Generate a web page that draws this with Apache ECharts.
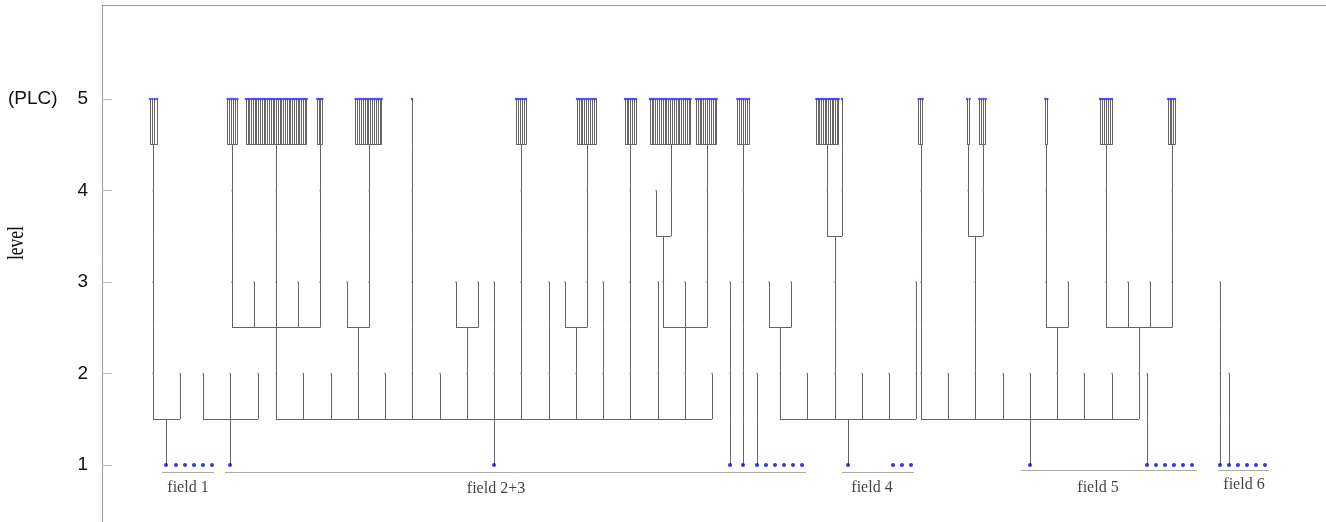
<!DOCTYPE html>
<html>
<head>
<meta charset="utf-8">
<script src="https://cdn.jsdelivr.net/npm/echarts@6/dist/echarts.min.js"></script>
<style>
  html, body { margin: 0; padding: 0; background: #fff; }
  #chart { width: 1326px; height: 522px; }
</style>
</head>
<body>
<div id="chart"></div>
<script>
// level-1 nodes (blue dots on the base line)
const rootX = [166, 176, 185, 194, 203, 212, 230, 494, 730, 743, 757, 766, 775, 784, 793, 802,
  848, 893, 902, 911, 1030, 1147, 1156, 1165, 1174, 1183, 1192, 1220, 1229, 1238, 1247, 1256, 1265];

// tree fans: [parentX, parentLevel, childLevel, childXs]
const fans = [
  [166, 1, 2, [153, 180]], [153, 2, 3, [153]], [153, 3, 4, [153]],
  [230, 1, 2, [203, 230, 258]],
  [494, 1, 2, [276, 303, 331, 358, 385, 412, 440, 467, 494, 521, 549, 576, 603, 630, 658, 685, 712]],
  [276, 2, 3, [232, 254, 276, 298, 320]],
  [232, 3, 4, [232]], [276, 3, 4, [276]], [320, 3, 4, [320]],
  [358, 2, 3, [347, 369]], [369, 3, 4, [369]],
  [412, 2, 3, [412]], [412, 3, 4, [412]],
  [467, 2, 3, [456, 478]],
  [494, 2, 3, [494]],
  [521, 2, 3, [521]], [521, 3, 4, [521]],
  [549, 2, 3, [549]],
  [576, 2, 3, [565, 587]], [587, 3, 4, [587]],
  [603, 2, 3, [603]],
  [630, 2, 3, [630]], [630, 3, 4, [630]],
  [658, 2, 3, [658]],
  [685, 2, 3, [663, 685, 707]], [663, 3, 4, [656, 671]], [707, 3, 4, [707]],
  [730, 1, 2, [730]], [730, 2, 3, [730]],
  [743, 1, 2, [743]], [743, 2, 3, [743]], [743, 3, 4, [743]],
  [757, 1, 2, [757]],
  [848, 1, 2, [780, 807, 835, 862, 889, 916]],
  [780, 2, 3, [769, 791]],
  [835, 2, 3, [835]], [835, 3, 4, [827, 842]],
  [916, 2, 3, [916]],
  [1030, 1, 2, [921, 948, 975, 1003, 1030, 1057, 1084, 1112, 1139]],
  [921, 2, 3, [921]], [921, 3, 4, [921]],
  [975, 2, 3, [975]], [975, 3, 4, [968, 983]],
  [1057, 2, 3, [1046, 1068]], [1046, 3, 4, [1046]],
  [1139, 2, 3, [1106, 1128, 1150, 1172]], [1106, 3, 4, [1106]], [1172, 3, 4, [1172]],
  [1147, 1, 2, [1147]],
  [1220, 1, 2, [1220]], [1220, 2, 3, [1220]],
  [1229, 1, 2, [1229]]
];

// PLC groups on level 5: [parentX, firstX, lastX, count]
const plcGroups = [
  [153, 150, 157, 4], [232, 227.7, 237.3, 6], [276, 246, 306.7, 35], [320, 317.3, 322.3, 4],
  [369, 355.7, 381.7, 15], [412, 412, 412, 1], [521, 516, 526, 6], [587, 577, 596, 11],
  [630, 625, 636, 7], [671, 650, 690.7, 23], [707, 696, 716.7, 12], [743, 737.3, 749, 7],
  [827, 816.3, 838.7, 14], [842, 842, 842, 1], [921, 918.7, 922.7, 3], [968, 967, 969.7, 2],
  [983, 979.3, 985.7, 4], [1046, 1045.3, 1047.3, 2], [1106, 1100, 1112, 7], [1172, 1168, 1175, 5]
];

const levelTicks = [1, 2, 3, 4, 5];

const fieldNames = ["field 1", "field 2+3", "field 4", "field 5", "field 6"];
const fieldFrom = [162, 225, 842, 1021, 1218];
const fieldTo = [214, 806, 914, 1197, 1269];
const fieldLineY = [0.922, 0.922, 0.922, 0.945, 0.945];
const fieldLabelX = [188, 496, 872, 1098, 1244];
const fieldLabelY = [0.75, 0.74, 0.75, 0.75, 0.78];

// build segments + node points
const allFans = fans.slice();
plcGroups.forEach(([px, x0, x1, n]) => {
  const xs = [];
  for (let i = 0; i < n; i++) xs.push(n === 1 ? x0 : x0 + i * (x1 - x0) / (n - 1));
  allFans.push([px, 4, 5, xs]);
});

const seen = new Set();
const segs = [];
function seg(a, b) {
  if (a[0] === b[0] && a[1] === b[1]) return;
  const k = a.join(",") + "|" + b.join(",");
  if (seen.has(k)) return;
  seen.add(k);
  segs.push({ coords: [a, b] });
}
const midPts = [];
const topPts = [];
allFans.forEach(([px, pl, cl, xs]) => {
  const bar = cl - 0.5;
  seg([px, pl], [px, bar]);
  seg([Math.min(px, ...xs), bar], [Math.max(px, ...xs), bar]);
  xs.forEach((cx) => {
    seg([cx, bar], [cx, cl]);
    (cl === 5 ? topPts : midPts).push([cx, cl]);
  });
});

const fieldLines = fieldNames.map((n, i) => ({
  coords: [[fieldFrom[i], fieldLineY[i]], [fieldTo[i], fieldLineY[i]]]
}));

const chart = echarts.init(document.getElementById("chart"));
chart.setOption({
  animation: false,
  grid: { left: 102, right: 0, top: 5, bottom: 0 },
  xAxis: {
    type: "value", position: "top", min: 102, max: 1326,
    axisLine: { show: true, lineStyle: { color: "#999" } },
    axisTick: { show: false }, axisLabel: { show: false }, splitLine: { show: false }
  },
  yAxis: {
    type: "value", min: 0.377, max: 6.027,
    axisLine: { show: true, lineStyle: { color: "#999" } },
    axisTick: { show: true, inside: true, length: 10, customValues: levelTicks, lineStyle: { color: "#bbb" } },
    axisLabel: {
      margin: 14, fontSize: 19, color: "#111", fontFamily: "Liberation Sans",
      customValues: levelTicks
    },
    splitLine: { show: false }
  },
  graphic: [
    { type: "text", left: 8, top: 89, style: { text: "(PLC)", fontSize: 19, fill: "#111", fontFamily: "Liberation Sans" } },
    { type: "text", x: 5, y: 260, rotation: Math.PI / 2, scaleX: 0.76,
      style: { text: "level", fontSize: 23, fill: "#111", fontFamily: "Liberation Serif" } }
  ],
  series: [
    {
      type: "lines", coordinateSystem: "cartesian2d", silent: true, z: 2,
      lineStyle: { color: "#666", width: 1, opacity: 1 },
      data: segs
    },
    {
      type: "lines", coordinateSystem: "cartesian2d", silent: true, z: 2,
      lineStyle: { color: "#aaa", width: 1, opacity: 1 },
      data: fieldLines
    },
    {
      type: "scatter", silent: true, z: 3, symbolSize: 2,
      itemStyle: { color: "rgba(90,90,255,0.6)" },
      data: midPts
    },
    {
      type: "scatter", silent: true, z: 4, symbolSize: 2.5,
      itemStyle: { color: "#3030ff" },
      data: topPts
    },
    {
      type: "scatter", silent: true, z: 5, symbolSize: 4,
      itemStyle: { color: "#0000ee" },
      data: rootX.map((x) => [x, 1])
    },
    {
      type: "scatter", silent: true, z: 5, symbolSize: 1,
      itemStyle: { color: "rgba(0,0,0,0)" },
      label: {
        show: true, position: "inside", formatter: "{b}",
        fontSize: 16, color: "#111", fontFamily: "Liberation Serif"
      },
      data: fieldNames.map((n, i) => ({ name: n, value: [fieldLabelX[i], fieldLabelY[i]] }))
    }
  ]
});
</script>
</body>
</html>
